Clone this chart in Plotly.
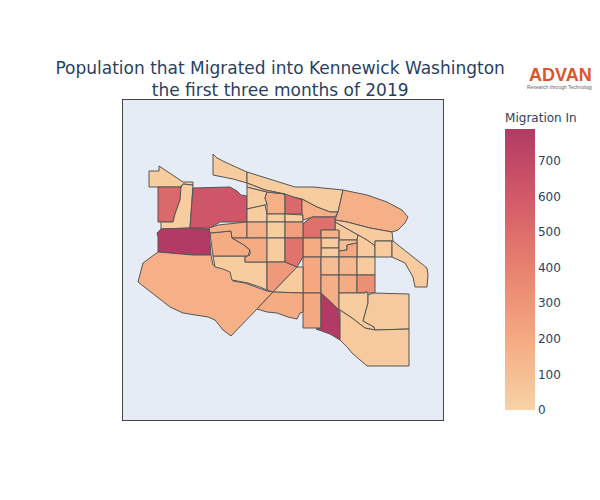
import plotly.graph_objects as go
from plotly.colors import sample_colorscale

# tract values
TRACT_VALUES = [
    30, 520, 30, 620, 790, 40, 30, 170, 40, 45,
    40, 40, 40, 30, 30, 170, 520, 30, 30, 170,
    480, 170, 40, 40, 110, 200, 190, 210, 110, 130,
    40, 180, 190, 330, 200, 790, 30, 45, 45, 170,
    30, 190, 180, 170, 30, 250, 190, 30, 470, 280,
    40, 190, 30,
]

# tract outlines as (lon, lat)
TRACT_RINGS = [
    [(-119.251, 46.229), (-119.241, 46.229), (-119.241, 46.234), (-119.217, 46.218), (-119.207, 46.218), (-119.207, 46.215), (-119.217, 46.216), (-119.220, 46.213), (-119.251, 46.213)],
    [(-119.242, 46.213), (-119.219, 46.213), (-119.220, 46.200), (-119.225, 46.186), (-119.227, 46.178), (-119.242, 46.178)],
    [(-119.219, 46.213), (-119.217, 46.216), (-119.207, 46.215), (-119.208, 46.200), (-119.210, 46.172), (-119.239, 46.171), (-119.239, 46.178), (-119.227, 46.178), (-119.225, 46.186), (-119.220, 46.200)],
    [(-119.207, 46.212), (-119.170, 46.213), (-119.163, 46.209), (-119.159, 46.205), (-119.153, 46.204), (-119.153, 46.178), (-119.180, 46.178), (-119.190, 46.172), (-119.210, 46.172), (-119.208, 46.200)],
    [(-119.239, 46.171), (-119.210, 46.172), (-119.191, 46.171), (-119.189, 46.145), (-119.207, 46.145), (-119.242, 46.148), (-119.242, 46.163), (-119.243, 46.167)],
    [(-119.187, 46.246), (-119.183, 46.242), (-119.173, 46.237), (-119.153, 46.228), (-119.153, 46.217), (-119.167, 46.221), (-119.187, 46.225)],
    [(-119.153, 46.228), (-119.137, 46.223), (-119.113, 46.215), (-119.105, 46.213), (-119.087, 46.213), (-119.057, 46.210), (-119.062, 46.188), (-119.070, 46.188), (-119.083, 46.193), (-119.098, 46.201), (-119.115, 46.205), (-119.120, 46.207), (-119.135, 46.210), (-119.153, 46.217)],
    [(-119.057, 46.210), (-119.033, 46.205), (-119.013, 46.198), (-118.998, 46.190), (-118.992, 46.183), (-118.995, 46.177), (-119.002, 46.170), (-119.008, 46.168), (-119.030, 46.172), (-119.053, 46.178), (-119.065, 46.180), (-119.062, 46.188)],
    [(-119.065, 46.180), (-119.053, 46.178), (-119.030, 46.172), (-119.008, 46.168), (-119.007, 46.159), (-119.025, 46.159), (-119.025, 46.154), (-119.033, 46.160), (-119.042, 46.165), (-119.065, 46.178)],
    [(-119.065, 46.178), (-119.042, 46.165), (-119.043, 46.160), (-119.061, 46.160), (-119.061, 46.169), (-119.065, 46.170)],
    [(-119.042, 46.165), (-119.033, 46.160), (-119.025, 46.154), (-119.025, 46.143), (-119.043, 46.143), (-119.043, 46.160)],
    [(-119.025, 46.159), (-119.008, 46.159), (-119.008, 46.143), (-119.025, 46.143)],
    [(-119.007, 46.159), (-118.987, 46.143), (-118.973, 46.132), (-118.972, 46.125), (-118.973, 46.113), (-118.985, 46.113), (-118.987, 46.123), (-118.995, 46.137), (-119.008, 46.143), (-119.008, 46.159)],
    [(-119.153, 46.213), (-119.133, 46.208), (-119.135, 46.202), (-119.133, 46.196), (-119.135, 46.195), (-119.153, 46.191)],
    [(-119.153, 46.191), (-119.135, 46.195), (-119.133, 46.186), (-119.133, 46.178), (-119.153, 46.178)],
    [(-119.133, 46.208), (-119.115, 46.206), (-119.115, 46.186), (-119.133, 46.186), (-119.133, 46.196), (-119.135, 46.202)],
    [(-119.115, 46.206), (-119.098, 46.200), (-119.098, 46.186), (-119.115, 46.186)],
    [(-119.133, 46.186), (-119.115, 46.186), (-119.115, 46.178), (-119.133, 46.178)],
    [(-119.115, 46.186), (-119.097, 46.185), (-119.097, 46.178), (-119.115, 46.178)],
    [(-119.098, 46.201), (-119.083, 46.193), (-119.070, 46.188), (-119.062, 46.188), (-119.065, 46.183), (-119.087, 46.183), (-119.097, 46.180), (-119.097, 46.185), (-119.098, 46.186)],
    [(-119.095, 46.178), (-119.088, 46.183), (-119.065, 46.183), (-119.065, 46.170), (-119.079, 46.170), (-119.079, 46.162), (-119.097, 46.162), (-119.097, 46.176)],
    [(-119.079, 46.170), (-119.061, 46.170), (-119.061, 46.162), (-119.079, 46.162)],
    [(-119.079, 46.162), (-119.061, 46.162), (-119.061, 46.152), (-119.079, 46.152)],
    [(-119.079, 46.152), (-119.061, 46.152), (-119.061, 46.143), (-119.079, 46.143)],
    [(-119.061, 46.160), (-119.043, 46.160), (-119.043, 46.157), (-119.053, 46.155), (-119.053, 46.150), (-119.061, 46.149)],
    [(-119.061, 46.149), (-119.053, 46.150), (-119.053, 46.155), (-119.043, 46.157), (-119.043, 46.143), (-119.061, 46.143)],
    [(-119.097, 46.162), (-119.079, 46.162), (-119.079, 46.143), (-119.097, 46.143)],
    [(-119.097, 46.143), (-119.079, 46.143), (-119.079, 46.107), (-119.097, 46.107)],
    [(-119.079, 46.143), (-119.061, 46.143), (-119.061, 46.125), (-119.079, 46.125)],
    [(-119.061, 46.143), (-119.043, 46.143), (-119.043, 46.125), (-119.061, 46.125)],
    [(-119.043, 46.143), (-119.025, 46.143), (-119.025, 46.125), (-119.043, 46.125)],
    [(-119.079, 46.125), (-119.061, 46.125), (-119.061, 46.090), (-119.079, 46.107)],
    [(-119.061, 46.125), (-119.043, 46.125), (-119.043, 46.107), (-119.061, 46.107)],
    [(-119.043, 46.125), (-119.025, 46.125), (-119.025, 46.107), (-119.043, 46.107)],
    [(-119.097, 46.107), (-119.079, 46.107), (-119.079, 46.072), (-119.097, 46.072)],
    [(-119.079, 46.107), (-119.061, 46.090), (-119.060, 46.060), (-119.070, 46.066), (-119.084, 46.071), (-119.079, 46.072)],
    [(-119.061, 46.107), (-119.035, 46.107), (-119.034, 46.109), (-119.032, 46.105), (-119.032, 46.097), (-119.035, 46.087), (-119.037, 46.079), (-119.026, 46.073), (-119.025, 46.070), (-119.035, 46.072), (-119.048, 46.082), (-119.060, 46.090), (-119.061, 46.090)],
    [(-119.032, 46.105), (-119.027, 46.107), (-118.991, 46.106), (-118.991, 46.071), (-119.025, 46.070), (-119.026, 46.073), (-119.037, 46.079), (-119.035, 46.087), (-119.032, 46.097)],
    [(-119.060, 46.090), (-119.048, 46.082), (-119.035, 46.072), (-119.025, 46.070), (-118.991, 46.071), (-118.991, 46.034), (-119.033, 46.034), (-119.048, 46.047), (-119.052, 46.052), (-119.060, 46.060)],
    [(-119.242, 46.148), (-119.207, 46.145), (-119.189, 46.145), (-119.187, 46.135), (-119.177, 46.132), (-119.168, 46.128), (-119.167, 46.119), (-119.155, 46.117), (-119.133, 46.109), (-119.127, 46.108), (-119.143, 46.091), (-119.169, 46.064), (-119.177, 46.070), (-119.185, 46.080), (-119.192, 46.083), (-119.217, 46.087), (-119.230, 46.093), (-119.262, 46.118), (-119.257, 46.137)],
    [(-119.187, 46.144), (-119.152, 46.144), (-119.155, 46.143), (-119.155, 46.138), (-119.133, 46.138), (-119.133, 46.110), (-119.140, 46.113), (-119.152, 46.117), (-119.168, 46.120), (-119.170, 46.128), (-119.177, 46.131), (-119.185, 46.133)],
    [(-119.190, 46.167), (-119.169, 46.169), (-119.168, 46.162), (-119.156, 46.155), (-119.150, 46.150), (-119.152, 46.144), (-119.187, 46.144)],
    [(-119.191, 46.172), (-119.182, 46.175), (-119.153, 46.178), (-119.153, 46.162), (-119.168, 46.162), (-119.169, 46.169), (-119.190, 46.167)],
    [(-119.153, 46.178), (-119.133, 46.178), (-119.133, 46.162), (-119.153, 46.162)],
    [(-119.133, 46.178), (-119.115, 46.178), (-119.115, 46.162), (-119.133, 46.162)],
    [(-119.115, 46.178), (-119.097, 46.178), (-119.097, 46.162), (-119.115, 46.162)],
    [(-119.168, 46.162), (-119.133, 46.162), (-119.133, 46.138), (-119.155, 46.138), (-119.155, 46.143), (-119.150, 46.145), (-119.150, 46.150), (-119.156, 46.155)],
    [(-119.133, 46.162), (-119.115, 46.162), (-119.115, 46.138), (-119.133, 46.138)],
    [(-119.115, 46.162), (-119.097, 46.162), (-119.097, 46.143), (-119.103, 46.133), (-119.113, 46.137), (-119.115, 46.138)],
    [(-119.133, 46.138), (-119.115, 46.138), (-119.113, 46.137), (-119.103, 46.133), (-119.127, 46.108), (-119.133, 46.110)],
    [(-119.097, 46.133), (-119.097, 46.107), (-119.127, 46.108), (-119.103, 46.133)],
    [(-119.143, 46.091), (-119.127, 46.108), (-119.097, 46.107), (-119.097, 46.088), (-119.100, 46.087), (-119.103, 46.081), (-119.112, 46.083), (-119.123, 46.087), (-119.133, 46.088)],
    [(-119.153, 46.217), (-119.135, 46.210), (-119.115, 46.206), (-119.133, 46.208), (-119.153, 46.213)],
]

VALUE_MAX = 790
COLORSCALE = [
    [0.0, "rgb(247,211,165)"],
    [0.25, "rgb(245,170,130)"],
    [0.5, "rgb(232,130,110)"],
    [0.75, "rgb(212,90,105)"],
    [1.0, "rgb(178,58,100)"],
]


def main() -> None:
    fig = go.Figure()

    # the geo subplot wants its base map from the CDN, so the tracts are plain filled outlines
    colors = sample_colorscale(COLORSCALE, [v / VALUE_MAX for v in TRACT_VALUES])
    for ring, value, color in zip(TRACT_RINGS, TRACT_VALUES, colors):
        closed = ring + ring[:1]
        fig.add_trace(
            go.Scatter(
                x=[p[0] for p in closed],
                y=[p[1] for p in closed],
                mode="lines",
                fill="toself",
                fillcolor=color,
                line=dict(color="#555555", width=1),
                showlegend=False,
                text=str(value),
                hoverinfo="text",
            )
        )

    # only here to carry the colour bar
    fig.add_trace(
        go.Scatter(
            x=[None],
            y=[None],
            mode="markers",
            showlegend=False,
            marker=dict(
                color=[0],
                cmin=0,
                cmax=VALUE_MAX,
                colorscale=COLORSCALE,
                showscale=True,
                colorbar=dict(
                    title=dict(text="Migration In", font=dict(size=12)),
                    thickness=30,
                    x=1.194,
                    xanchor="left",
                    xpad=0,
                    outlinewidth=0,
                    tickfont=dict(size=12),
                ),
            ),
        )
    )

    # the page has an 8px body margin, so 584x484 fills the 600x500 window
    fig.update_layout(
        width=584,
        height=484,
        margin=dict(l=115, r=149, t=92, b=72),
        font=dict(family="DejaVu Sans"),
        plot_bgcolor="#e5ecf6",
        title=dict(
            text="Population that Migrated into Kennewick Washington<br>the first three months of 2019",
            x=0.466,
            xanchor="center",
            y=0.8636,
            yanchor="top",
            font=dict(size=17),
        ),
        xaxis=dict(
            range=[-119.277, -118.957],
            showgrid=False,
            zeroline=False,
            showticklabels=False,
            ticks="",
            showline=True,
            mirror=True,
            linecolor="#444444",
            linewidth=1,
        ),
        yaxis=dict(
            range=[45.98, 46.3],
            showgrid=False,
            zeroline=False,
            showticklabels=False,
            ticks="",
            showline=True,
            mirror=True,
            linecolor="#444444",
            linewidth=1,
        ),
    )
    fig.add_annotation(
        text="<b>ADVAN</b>",
        xref="paper",
        yref="paper",
        x=1.366,
        y=1.078,
        xanchor="center",
        yanchor="middle",
        showarrow=False,
        font=dict(size=18, color="#e0532a", family="Liberation Sans"),
    )
    fig.add_annotation(
        text="Research through Technology",
        xref="paper",
        yref="paper",
        x=1.366,
        y=1.041,
        xanchor="center",
        yanchor="middle",
        showarrow=False,
        font=dict(size=5, color="#666666", family="Liberation Sans"),
    )

    fig.write_html("out.html")


if __name__ == "__main__":
    main()
